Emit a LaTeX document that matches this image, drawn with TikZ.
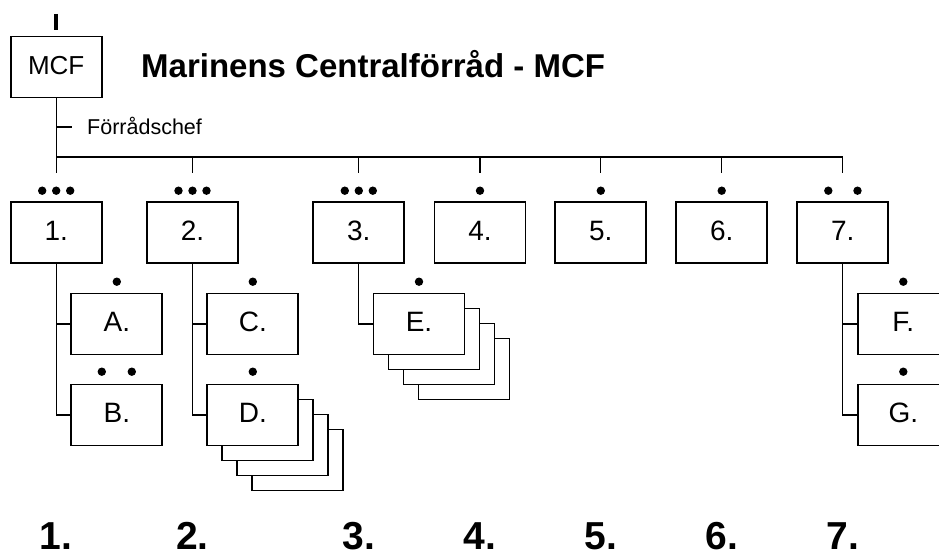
\documentclass[tikz,border=0pt]{standalone}
\usepackage{fontspec}
\setmainfont{Liberation Sans}
\begin{document}
\begin{tikzpicture}[x=1pt,y=-1pt]
\tikzset{
 box/.style={draw, line width=1.9pt, fill=white, minimum width=91pt, minimum height=61pt, inner sep=0pt, text height=20pt, text depth=5pt, font=\fontsize{28}{32}\selectfont},
 shadowbox/.style={box},
 conn/.style={line width=1.3pt},
 bardot/.style={circle, fill=black, inner sep=0pt, minimum size=8.4pt},
 biglabel/.style={font=\bfseries\fontsize{39}{44}\selectfont, anchor=base, inner sep=0pt},
}
\useasboundingbox (0,0) rectangle (939,556);
\clip (0,0) rectangle (939,556);
\fill[white] (0,0) rectangle (939,556);

% top
\coordinate (tk1) at (56.2,14);
\coordinate (tk2) at (56.2,30);
\draw[line width=4.5pt] (tk1) -- (tk2);
\node[box, font=\fontsize{26}{30}\selectfont, text height=18.5pt, text depth=4pt] (mcf) at (56.2,67) {MCF};
\node[anchor=base west, inner sep=0pt, font=\bfseries\fontsize{33}{38}\selectfont] (title) at (141,78) {Marinens Centralförråd - MCF};
\coordinate (fc) at (56.2,127);
\coordinate (fce) at (72,127);
\node[anchor=base west, inner sep=0pt, font=\fontsize{21.5}{25}\selectfont] (chef) at (87,135) {Förrådschef};
\draw[conn] (fc) -- (fce);

% columns
\foreach \i/\x in {1/56.2,2/192.5,3/358.8,4/480,5/600.8,6/721.7,7/842.8}{
  \coordinate (bar\i) at (\x,157);
  \coordinate (t\i) at (\x,173);
  \node[box] (b\i) at (\x,232.7) {\i.};
  \node[biglabel] (L\i) at (\x,549) {\i.};
}
\draw[conn] (mcf.south) -- (t1);
\draw[conn, line width=1.6pt] (bar1) -- (bar7);
\foreach \i in {2,...,7}{ \draw[conn] (bar\i) -- (t\i); }

% dots above top-level boxes
\foreach \n/\x in {a/42.2,b/56.2,c/70.2,d/178.5,e/192.5,f/206.5,g/344.8,h/358.8,i/372.8,j/480,k/600.8,l/721.7,m/828.3,n/857.5}{
  \node[bardot] (dt\n) at (\x,190.7) {};
}

% shadows
\node[shadowbox] (D3) at (297.8,460) {};
\node[shadowbox] (D2) at (282.8,445) {};
\node[shadowbox] (D1) at (267.8,430) {};
\node[shadowbox] (E3) at (464,369) {};
\node[shadowbox] (E2) at (449,354) {};
\node[shadowbox] (E1) at (434,339) {};

% sub boxes
\node[box] (A) at (116.8,324) {A.};
\node[box] (B) at (116.8,415) {B.};
\node[box] (C) at (252.8,324) {C.};
\node[box] (D) at (252.8,415) {D.};
\node[box] (E) at (419,324) {E.};
\node[box] (F) at (903.3,324) {F.};
\node[box] (G) at (903.3,415) {G.};

% sub dots
\foreach \n/\x/\y in {A/116.8/281.7,Ba/101.8/371.7,Bb/131.8/371.7,C/252.8/281.7,D/252.8/371.7,E/419/281.7,F/903.3/281.7,G/903.3/371.7}{
  \node[bardot] (ds\n) at (\x,\y) {};
}

% connectors
\draw[conn] (b1.south) |- (B.west);
\draw[conn] (b1.south |- A.west) -- (A.west);
\draw[conn] (b2.south) |- (D.west);
\draw[conn] (b2.south |- C.west) -- (C.west);
\draw[conn] (b3.south) |- (E.west);
\draw[conn] (b7.south) |- (G.west);
\draw[conn] (b7.south |- F.west) -- (F.west);
\end{tikzpicture}
\end{document}
